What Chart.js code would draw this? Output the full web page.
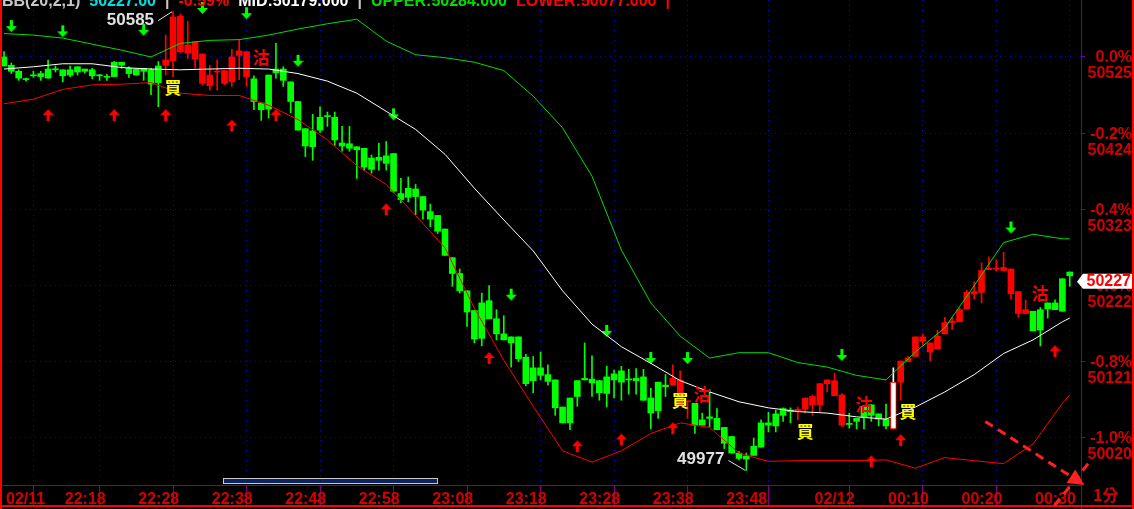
<!DOCTYPE html>
<html>
<head>
<meta charset="utf-8">
<script src="https://cdn.jsdelivr.net/npm/chart.js@4.4.1/dist/chart.umd.min.js"></script>
<style>
html, body { margin: 0; padding: 0; background: #000; overflow: hidden; }
canvas { display: block; }
</style>
</head>
<body>
<canvas id="chart" width="1134" height="509"></canvas>
<script>
// x ticks (bar index -> label), one bar per minute starting 22:10
const timeTicks = [0, 8, 18, 28, 38, 48, 58, 68, 78, 88, 98, 110, 120, 130, 140];
const timeLabels = ["02/11", "22:18", "22:28", "22:38", "22:48", "22:58", "23:08", "23:18", "23:28", "23:38", "23:48", "02/12", "00:10", "00:20", "00:30"];
const priceTicks = [50020, 50121, 50222, 50323, 50424, 50525];
const pctLabels = ["-1.0%", "-0.8%", "-0.6%", "-0.4%", "-0.2%", "0.0%"];

const open = [50525,50514,50506,50495,50500,50503,50509,50508,50508,50508,50512,50509,50508,50500,50498,50518,50518,50510,50509,50510,50508,50513,
  50514,50520,50532,50530,50522,50490,50487,50505,50490,50492,50527,50499,
  50496,50464,50501,50509,50509,50492,50466,50430,50427,50445,50446,50445,50411,50410,50406,50404,50391,50392,50394,50397,50344,50351,50350,50340,50320,50315,
  50297,50259,50238,50215,50189,50199,50202,50178,50158,50154,50154,50127,50113,50113,50104,50097,50061,50073,50096,50099,50098,50096,50101,50105,50109,50097,50099,50101,50073,50094,50090,
  50090,50064,50068,
  50066,50044,50048,50046,50034,50022,50000,49996,50009,50040,50040,50052,50059,50057,
  50056,50058,50064,50064,50092,50076,50037,
  50038,50046,50062,50064,50052,50045,50032,
  50094,50121,50128,50148,50134,50138,50158,50173,50174,50191,50211,50213,50243,50244,50242,50211,50185,50185,
  50188,50190,50199,50199,50231,50240];
const high = [50532,50517,50508,50497,50506,50506,50521,50513,50508,50513,50512,50509,50510,50502,50502,50519,50518,50512,50509,50510,50510,50519,
  50554,50585,50582,50572,50545,50529,50514,50521,50507,50535,50548,50532,
  50500,50464,50501,50543,50512,50492,50466,50430,50449,50459,50452,50452,50433,50433,50406,50404,50395,50411,50413,50397,50364,50366,50356,50340,50330,50315,
  50297,50259,50244,50215,50189,50212,50222,50190,50182,50154,50154,50131,50128,50134,50117,50097,50061,50073,50096,50146,50129,50096,50115,50110,50115,50111,50112,50111,50086,50094,50104,
  50117,50109,50068,
  50066,50053,50084,50059,50034,50022,50002,50000,50020,50044,50054,50057,50060,50060,
  50061,50073,50077,50092,50097,50106,50079,
  50053,50046,50062,50064,50052,50065,50113,
  50122,50128,50154,50158,50146,50163,50180,50180,50192,50216,50227,50252,50260,50256,50266,50244,50214,50203,
  50188,50193,50199,50203,50231,50240];
const low = [50513,50503,50494,50493,50498,50494,50497,50505,50492,50499,50501,50504,50496,50494,50494,50499,50510,50498,50501,50494,50475,50459,
  50501,50499,50530,50523,50510,50488,50481,50481,50488,50486,50495,50486,
  50455,50441,50444,50497,50486,50451,50428,50393,50388,50425,50433,50408,50400,50400,50364,50375,50371,50375,50375,50345,50332,50333,50316,50310,50300,50291,
  50262,50221,50212,50168,50146,50142,50178,50150,50150,50114,50121,50089,50080,50097,50090,50050,50040,50031,50062,50097,50075,50070,50061,50073,50070,50078,50078,50070,50032,50046,50075,
  50090,50064,50046,
  50026,50037,50035,50031,50006,50000,49991,49977,49997,50008,50028,50028,50042,50040,
  50044,50053,50050,50055,50081,50076,50035,
  50033,50032,50032,50042,50036,50032,50032,
  50070,50121,50128,50143,50122,50138,50158,50164,50174,50191,50204,50199,50243,50241,50242,50204,50180,50185,
  50162,50142,50179,50190,50188,50221];
const close = [50513,50506,50497,50495,50500,50499,50497,50508,50500,50501,50505,50506,50500,50500,50498,50499,50514,50503,50501,50506,50489,50491,
  50521,50578,50579,50541,50545,50529,50501,50505,50507,50525,50533,50532,
  50466,50455,50456,50504,50494,50466,50428,50407,50406,50428,50446,50415,50407,50404,50402,50379,50376,50388,50384,50347,50336,50339,50340,50322,50310,50294,
  50262,50238,50215,50187,50151,50152,50178,50158,50150,50146,50125,50092,50096,50103,50095,50060,50040,50040,50075,50097,50093,50080,50079,50097,50094,50097,50096,50070,50053,50056,50088,
  50099,50097,50068,
  50037,50037,50046,50031,50013,50000,49993,49992,49997,50008,50037,50036,50050,50055,
  50058,50073,50075,50092,50097,50096,50077,
  50038,50042,50048,50050,50045,50036,50094,
  50122,50126,50154,50154,50146,50155,50173,50175,50190,50213,50214,50242,50245,50244,50246,50244,50214,50190,
  50162,50163,50191,50190,50188,50235];

// buy / sell signals (bar colour switches at these bars)
const buyAt = [22, 91, 108, 122];
const sellAt = [34, 94, 115, 140];
const markedBar = 121;
const lastPrice = 50227;

// bollinger lines, read every 4 bars
const bandIdx = [0,4,8,12,16,20,24,28,32,36,40,44,48,52,56,60,64,68,72,76,80,84,88,92,96,100,104,108,112,116,120,124,128,132,136,140,144,145];
const upper = [50556,50554,50550,50542,50534,50525,50543,50547,50548,50554,50562,50569,50575,50546,50528,50524,50518,50507,50473,50431,50367,50269,50199,50155,50126,50133,50133,50120,50114,50103,50097,50134,50166,50222,50279,50290,50284,50284];
const mid = [50509,50512,50516,50516,50511,50509,50508,50509,50510,50509,50503,50493,50477,50453,50429,50396,50351,50309,50268,50215,50171,50141,50119,50096,50081,50068,50060,50055,50053,50048,50045,50061,50081,50104,50132,50150,50174,50179];
const lower = [50463,50469,50482,50488,50489,50491,50477,50474,50474,50461,50442,50415,50381,50356,50315,50272,50192,50123,50062,50003,49988,50003,50026,50040,50034,50000,49989,49990,49990,49990,49991,49980,49994,49990,49986,50012,50066,50077];

// arrow markers (value = arrow tip)
const downIdx = [1, 8, 19, 27, 33, 40, 53, 69, 82, 88, 93, 114, 137];
const downVal = [50558, 50551, 50553, 50582, 50575, 50512, 50441, 50202, 50154, 50118, 50118, 50122, 50291];
const upIdx = [6, 15, 22, 31, 37, 52, 66, 78, 84, 91, 118, 122, 143];
const upVal = [50456, 50456, 50456, 50442, 50456, 50331, 50134, 50017, 50026, 50041, 49997, 50025, 50143];

// text signals
const buyLabelIdx = [23, 92, 109, 123];
const buyLabelVal = [50485, 50070, 50029, 50055];
const sellLabelIdx = [35, 95, 117, 141];
const sellLabelVal = [50524, 50078, 50064, 50211];

const hiIdx = 23, hiVal = 50585;
const loIdx = 101, loVal = 49977;

const RED = "#ff0000", GREEN = "#00ff00", AXIS_RED = "#d40000", PURPLE = "#800080", GRID = "#0000e0";

const regime = [];
let state = "dn";
for (let i = 0; i < open.length; i++) {
    if (buyAt.includes(i)) state = "up";
    if (sellAt.includes(i)) state = "dn";
    regime.push(state);
}
function barColor(i) {
    if (i === markedBar) return "#ffffff";
    return regime[i] === "up" ? RED : GREEN;
}

function arrowImg(color, up) {
    const c = document.createElement("canvas");
    c.width = 11;
    c.height = 26;
    const g = c.getContext("2d");
    g.fillStyle = color;
    g.beginPath();
    if (up) {
        g.moveTo(5.5, 13); g.lineTo(11, 19); g.lineTo(0, 19);
    } else {
        g.moveTo(5.5, 13); g.lineTo(11, 7); g.lineTo(0, 7);
    }
    g.closePath();
    g.fill();
    if (up) g.fillRect(4, 19, 3, 6);
    else g.fillRect(4, 1, 3, 6);
    return c;
}

const bodyData = open.map((o, i) => ({ x: i, y: [Math.min(o, close[i]), Math.max(o, close[i])] }));
const wickData = open.map((o, i) => ({ x: i, y: [low[i], high[i]] }));
const pts = (idx, vals) => idx.map((x, k) => ({ x: x, y: vals[k] }));

const overlay = {
    id: "overlay",
    beforeDraw(chart) {
        const ctx = chart.ctx;
        ctx.save();
        ctx.fillStyle = "#000";
        ctx.fillRect(0, 0, chart.width, chart.height);
        ctx.restore();
    },
    afterDatasetsDraw(chart) {
        const ctx = chart.ctx;
        const xs = chart.scales.x, ys = chart.scales.y;
        ctx.save();
        ctx.textAlign = "center";
        ctx.textBaseline = "middle";
        ctx.font = 'bold 17px "Noto Sans CJK TC"';
        ctx.fillStyle = "#ffff00";
        buyLabelIdx.forEach((b, k) => ctx.fillText("買", xs.getPixelForValue(b), ys.getPixelForValue(buyLabelVal[k])));
        ctx.fillStyle = RED;
        sellLabelIdx.forEach((b, k) => ctx.fillText("沽", xs.getPixelForValue(b), ys.getPixelForValue(sellLabelVal[k])));

        // high / low notes
        ctx.font = 'bold 17px "Liberation Sans"';
        ctx.fillStyle = "#e0e0e0";
        ctx.strokeStyle = "#e0e0e0";
        ctx.lineWidth = 1;
        ctx.textAlign = "right";
        let px = xs.getPixelForValue(hiIdx), py = ys.getPixelForValue(hiVal);
        ctx.fillText(String(hiVal), px - 19, py + 9);
        ctx.beginPath(); ctx.moveTo(px - 15, py + 9); ctx.lineTo(px - 1, py); ctx.stroke();
        px = xs.getPixelForValue(loIdx); py = ys.getPixelForValue(loVal);
        ctx.fillText(String(loVal), px - 22, py - 11);
        ctx.beginPath(); ctx.moveTo(px - 18, py - 10); ctx.lineTo(px - 1, py); ctx.stroke();
        ctx.restore();
    },
    afterDraw(chart) {
        const ctx = chart.ctx;
        const area = chart.chartArea;
        const xs = chart.scales.x, ys = chart.scales.y;
        ctx.save();

        // header line, mostly cut off at the top
        ctx.font = 'bold 16px "Liberation Sans"';
        ctx.textBaseline = "alphabetic";
        ctx.textAlign = "left";
        const head = [
            ["BB(20,2,1)", "#c8c8c8"], ["50227.00", "#00e0e0"], ["|", "#c8c8c8"],
            ["-0.59%", RED], ["MID:" + mid[mid.length - 1].toFixed(3), "#ffffff"], ["|", "#c8c8c8"],
            ["UPPER:" + upper[upper.length - 1].toFixed(3), "#00e000"], ["LOWER:" + lower[lower.length - 1].toFixed(3), RED], ["|", RED]
        ];
        let hx = 2;
        head.forEach(([t, c]) => {
            ctx.fillStyle = c;
            ctx.fillText(t, hx, 6);
            hx += ctx.measureText(t).width + 9;
        });

        // scroll bar
        const sx0 = area.left + (area.right - area.left) * 0.2063;
        const sx1 = area.left + (area.right - area.left) * 0.4043;
        ctx.fillStyle = "#0c2460";
        ctx.fillRect(sx0, area.bottom - 6, sx1 - sx0, 5);
        ctx.strokeStyle = "#c8c8c8";
        ctx.lineWidth = 1;
        ctx.strokeRect(sx0 + 0.5, area.bottom - 6.5, sx1 - sx0, 5);

        // frame lines
        ctx.strokeStyle = PURPLE;
        ctx.beginPath();
        ctx.moveTo(area.right + 0.5, area.bottom);
        ctx.lineTo(area.right + 0.5, chart.height);
        ctx.stroke();
        ctx.strokeStyle = RED;
        ctx.lineWidth = 2;
        ctx.beginPath();
        ctx.moveTo(0, area.bottom + 21);
        ctx.lineTo(chart.width, area.bottom + 21);
        ctx.moveTo(1, 0); ctx.lineTo(1, chart.height);
        ctx.moveTo(chart.width - 1, 0); ctx.lineTo(chart.width - 1, chart.height);
        ctx.stroke();

        // "1分" period label
        ctx.fillStyle = AXIS_RED;
        ctx.font = 'bold 16px "Noto Sans CJK TC"';
        ctx.textBaseline = "middle";
        ctx.fillText("1分", area.right + 12, area.bottom + 10);

        // drawn annotation arrow
        ctx.strokeStyle = "#ff2020";
        ctx.lineWidth = 3;
        ctx.setLineDash([9, 6]);
        const ax0 = xs.getPixelForValue(133.5), ay0 = ys.getPixelForValue(50042);
        const ax1 = xs.getPixelForValue(146.3), ay1 = ys.getPixelForValue(49962);
        ctx.beginPath(); ctx.moveTo(ax0, ay0); ctx.lineTo(ax1, ay1); ctx.stroke();
        ctx.beginPath();
        ctx.moveTo(xs.getPixelForValue(147.5), ys.getPixelForValue(49986));
        ctx.lineTo(xs.getPixelForValue(142.4), ys.getPixelForValue(49924));
        ctx.stroke();
        ctx.setLineDash([]);
        const ang = Math.atan2(ay1 - ay0, ax1 - ax0);
        ctx.fillStyle = "#ff2020";
        ctx.beginPath();
        ctx.moveTo(ax1 + 6 * Math.cos(ang), ay1 + 6 * Math.sin(ang));
        ctx.lineTo(ax1 - 10 * Math.cos(ang) - 8 * Math.sin(ang), ay1 - 10 * Math.sin(ang) + 8 * Math.cos(ang));
        ctx.lineTo(ax1 - 10 * Math.cos(ang) + 8 * Math.sin(ang), ay1 - 10 * Math.sin(ang) - 8 * Math.cos(ang));
        ctx.closePath();
        ctx.fill();

        // last price tag
        const ty = ys.getPixelForValue(lastPrice);
        ctx.fillStyle = "#ffffff";
        ctx.beginPath();
        ctx.moveTo(area.right - 4, ty);
        ctx.lineTo(area.right + 2, ty - 8);
        ctx.lineTo(chart.width - 2, ty - 8);
        ctx.lineTo(chart.width - 2, ty + 7);
        ctx.lineTo(area.right + 2, ty + 7);
        ctx.closePath();
        ctx.fill();
        ctx.fillStyle = RED;
        ctx.font = 'bold 16px "Liberation Sans"';
        ctx.textAlign = "right";
        ctx.fillText(String(lastPrice), chart.width - 3, ty);
        ctx.restore();
    }
};

const tickFont = { family: "Liberation Sans", weight: "bold", size: 16, lineHeight: "16px" };

new Chart(document.getElementById("chart").getContext("2d"), {
    type: "bar",
    data: {
        datasets: [
            { type: "line", data: pts(bandIdx, mid), borderColor: "#ffffff", borderWidth: 1, pointRadius: 0, tension: 0, order: 0 },
            { type: "line", data: pts(bandIdx, upper), borderColor: "#00dd00", borderWidth: 1, pointRadius: 0, tension: 0, order: 0 },
            { type: "line", data: pts(bandIdx, lower), borderColor: RED, borderWidth: 1, pointRadius: 0, tension: 0, order: 0 },
            { type: "line", data: pts(downIdx, downVal), showLine: false, pointStyle: arrowImg(GREEN, false), pointRadius: 5, order: 0 },
            { type: "line", data: pts(upIdx, upVal), showLine: false, pointStyle: arrowImg(RED, true), pointRadius: 5, order: 0 },
            {
                data: bodyData, barThickness: 6, grouped: false, minBarLength: 1, borderSkipped: false,
                backgroundColor: (c) => barColor(c.dataIndex),
                borderColor: (c) => (c.dataIndex === markedBar ? RED : "rgba(0,0,0,0)"),
                borderWidth: (c) => (c.dataIndex === markedBar ? 1 : 0),
                order: 1
            },
            {
                data: wickData, barThickness: 1, grouped: false, minBarLength: 1, borderSkipped: false,
                backgroundColor: (c) => barColor(c.dataIndex), borderWidth: 0, order: 2
            }
        ]
    },
    options: {
        responsive: false,
        animation: false,
        devicePixelRatio: 1,
        layout: { autoPadding: false, padding: { left: 0, right: 2, top: 0, bottom: 0 } },
        plugins: { legend: { display: false }, tooltip: { enabled: false } },
        scales: {
            x: {
                type: "linear",
                min: -0.544,
                max: 146.53,
                offset: false,
                afterBuildTicks: (s) => { s.ticks = timeTicks.map((v) => ({ value: v })); },
                afterFit: (s) => { s.height = 24; s.paddingLeft = 0; s.paddingRight = 0; },
                ticks: {
                    autoSkip: false, maxRotation: 0, minRotation: 0, align: "start",
                    padding: -14, labelOffset: 2, color: AXIS_RED, font: tickFont,
                    callback: (v, i) => timeLabels[i]
                },
                grid: { color: GRID, tickColor: PURPLE, tickLength: 21, lineWidth: 1 },
                border: { color: PURPLE, dash: [1, 4] }
            },
            y: {
                type: "linear",
                position: "right",
                min: 49957.7,
                max: 50600.5,
                afterBuildTicks: (s) => { s.ticks = priceTicks.map((v) => ({ value: v })); },
                afterFit: (s) => { s.width = 51; s.paddingTop = 0; s.paddingBottom = 0; },
                ticks: {
                    crossAlign: "far", labelOffset: 9, color: AXIS_RED, font: tickFont,
                    callback: (v, i) => [pctLabels[i], String(priceTicks[i])]
                },
                grid: { color: GRID, tickColor: PURPLE, tickLength: 4 },
                border: { color: PURPLE, dash: [1, 4] }
            }
        }
    },
    plugins: [overlay]
});
</script>
</body>
</html>
